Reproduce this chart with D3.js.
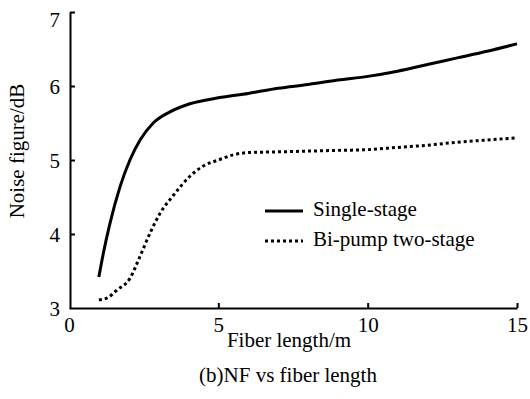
<!DOCTYPE html>
<html>
<head>
<meta charset="utf-8">
<script src="https://cdn.jsdelivr.net/npm/d3@7"></script>
<style>
  html, body { margin: 0; padding: 0; background: #fff; }
  svg { display: block; }
  text { font-family: "Liberation Serif", "Times New Roman", serif; fill: #000; }
</style>
</head>
<body>
<svg id="chart" width="530" height="399"></svg>
<script>
// ---- data ----
const singleX = [1.0, 1.15, 1.37, 1.71, 2.04, 2.38, 2.82, 3.38, 4.05, 5, 6, 7, 8, 9, 10, 11, 12, 13, 14, 15];
const singleY = [3.42, 3.74, 4.14, 4.64, 5.0, 5.27, 5.50, 5.65, 5.76, 5.84, 5.90, 5.97, 6.02, 6.08, 6.13, 6.20, 6.29, 6.38, 6.47, 6.57];
const biX = [1.0, 1.3, 1.6, 2.04, 2.38, 2.71, 3.05, 3.49, 4.05, 4.5, 5, 5.5, 6, 7, 8, 9, 10, 11, 12, 13, 14, 15];
const biY = [3.11, 3.14, 3.24, 3.40, 3.70, 4.01, 4.28, 4.52, 4.78, 4.92, 5.00, 5.07, 5.10, 5.11, 5.12, 5.13, 5.14, 5.17, 5.20, 5.24, 5.27, 5.30];
const xTicks = [0, 5, 10, 15];
const yTicks = [3, 4, 5, 6, 7];
const seriesNames = ["Single-stage", "Bi-pump two-stage"];
const xTitle = "Fiber length/m";
const yTitle = "Noise figure/dB";
const caption = "(b)NF vs fiber length";

// ---- layout ----
const svg = d3.select("#chart");
const x = d3.scaleLinear().domain([0, 15]).range([69, 517]);
const y = d3.scaleLinear().domain([3, 7]).range([308, 12]);
const fmt = d3.format("d");
const serif = '"Liberation Serif", "Times New Roman", serif';

// axes
const xAxis = d3.axisBottom(x).tickValues(xTicks).tickFormat(fmt).tickSizeInner(-5).tickSizeOuter(0).tickPadding(9);
const yAxis = d3.axisLeft(y).tickValues(yTicks).tickFormat(fmt).tickSizeInner(-5).tickSizeOuter(0).tickPadding(10);

const gx = svg.append("g").attr("transform", `translate(0,${y(3)})`).call(xAxis);
const gy = svg.append("g").attr("transform", `translate(${x(0) + 1},0)`).call(yAxis);

[gx, gy].forEach(g => {
  g.attr("font-family", null).attr("font-size", null);
  g.select(".domain").attr("stroke", "#000").attr("stroke-width", 2);
  g.selectAll(".tick line").attr("stroke", "#000").attr("stroke-width", 2);
  g.selectAll(".tick text")
    .style("font-family", serif)
    .style("font-size", "21px").attr("fill", "#000");
});
gx.selectAll(".tick").filter(d => d === 0).select("line").remove();
gy.selectAll(".tick").filter(d => d === 3).select("line").remove();
gy.selectAll(".tick text").attr("dy", d => d === 7 ? "0.7em" : "0.36em");
gx.selectAll(".tick text").attr("dy", "0.7em");

// lines
const line = d3.line().x(d => x(d[0])).y(d => y(d[1])).curve(d3.curveMonotoneX);
const singleData = singleX.map((v, i) => [v, singleY[i]]);
const biData = biX.map((v, i) => [v, biY[i]]);

svg.append("path").datum(singleData).attr("d", line)
  .attr("fill", "none").attr("stroke", "#000").attr("stroke-width", 3);
svg.append("path").datum(biData).attr("d", line)
  .attr("fill", "none").attr("stroke", "#000").attr("stroke-width", 3)
  .attr("stroke-dasharray", "3,3");

// legend
const legend = svg.append("g");
const styles = [null, "3,3"];
seriesNames.forEach((name, i) => {
  const ly = 211 + i * 30;
  legend.append("line").attr("x1", 265).attr("x2", 303).attr("y1", ly).attr("y2", ly)
    .attr("stroke", "#000").attr("stroke-width", 3)
    .attr("stroke-dasharray", styles[i]);
  legend.append("text").attr("x", 313).attr("y", ly + 5)
    .style("font-family", serif).style("font-size", "21px").text(name);
});

// titles
svg.append("text").attr("x", 289).attr("y", 347).attr("text-anchor", "middle")
  .style("font-family", serif).style("font-size", "21px").text(xTitle);
svg.append("text").attr("transform", "translate(24,151) rotate(-90)").attr("text-anchor", "middle")
  .style("font-family", serif).style("font-size", "21px").text(yTitle);
svg.append("text").attr("x", 288).attr("y", 382).attr("text-anchor", "middle")
  .style("font-family", serif).style("font-size", "21px").text(caption);
</script>
</body>
</html>
